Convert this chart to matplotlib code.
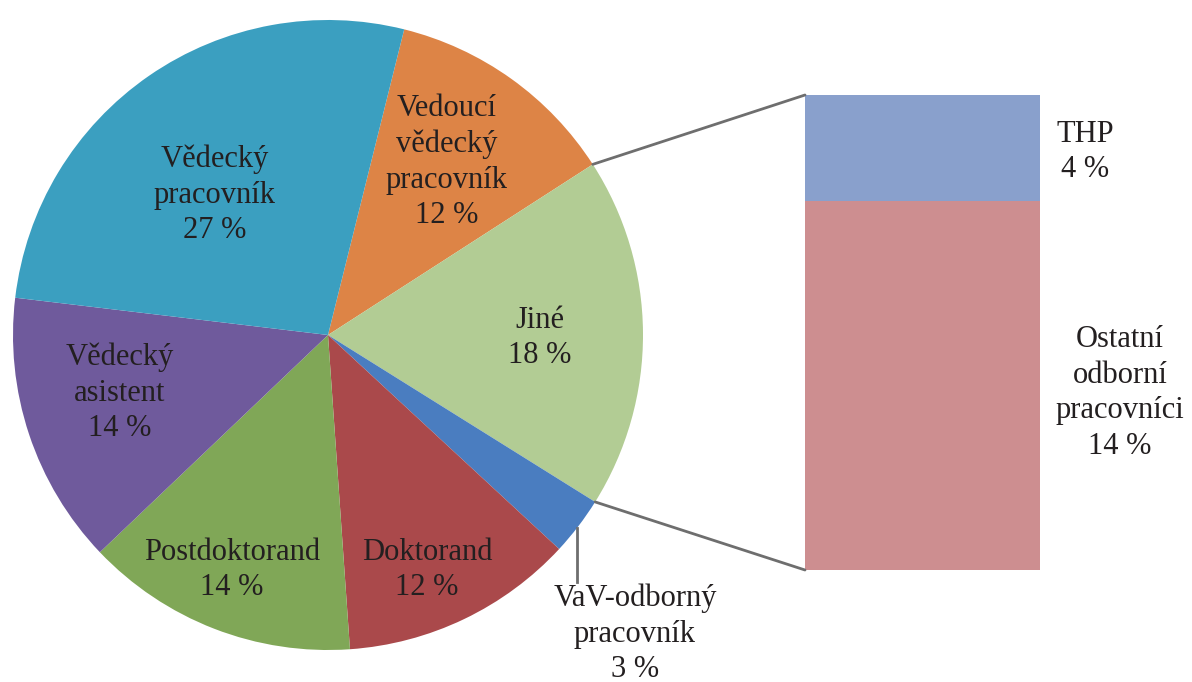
import numpy as np
import matplotlib
matplotlib.use("Agg")
import matplotlib.pyplot as plt
from matplotlib.patches import ConnectionPatch

plt.rcParams['font.family'] = ['Liberation Serif', 'DejaVu Serif']

# pie slices, clockwise from the top
pie_labels = ["Vedoucí\nvědecký\npracovník", "Jiné", "VaV-odborný\npracovník",
              "Doktorand", "Postdoktorand", "Vědecký\nasistent", "Vědecký\npracovník"]
pie_values = [12, 18, 3, 12, 14, 14, 27]
pie_colors = ["#DD8446", "#B2CC94", "#4A7DC0", "#AA494B", "#80A757", "#6F5A9C", "#3B9FC0"]

# breakdown of "Jiné" (bottom to top)
bar_labels = ["Ostatní\nodborní\npracovníci", "THP"]
bar_values = [14, 4]
bar_colors = ["#CD8E90", "#89A0CC"]

W, H = 1192, 682
fig = plt.figure(figsize=(W / 100, H / 100), dpi=100)
ax = fig.add_axes([0, 0, 1, 1])

cx, cy, r = 328, H - 335, 315
start = 76
wedges, _ = ax.pie(pie_values, colors=pie_colors, startangle=start, counterclock=False,
                   center=(cx, cy), radius=r, frame=True,
                   wedgeprops=dict(linewidth=0))
ax.set_xlim(0, W)
ax.set_ylim(0, H)
ax.set_aspect('auto')
ax.axis('off')

txt = "#231F20"
fs = 22
ls = 1.3
# label positions (pixels from top-left)
label_pos = [(447, 162), (540, 338), (635, 634), (427, 570), (232, 570), (120, 393), (215, 195)]
for lab, val, (px, py) in zip(pie_labels, pie_values, label_pos):
    ax.text(px, H - py, f"{lab}\n{val} %", ha='center', va='center', fontsize=fs,
            color=txt, linespacing=ls)

# leader line for the small slice
ax.plot([577, 577], [H - 528, H - 582], color="#6E6E6E", lw=2)

# stacked bar for "Jiné"
bax = fig.add_axes([805 / W, (H - 570) / H, 235 / W, 475 / H])
bottom = 0
for val, col in zip(bar_values, bar_colors):
    bax.bar(0.5, val, width=1, bottom=bottom, color=col, linewidth=0)
    bottom += val
bax.set_xlim(0, 1)
bax.set_ylim(0, sum(bar_values))
bax.axis('off')

ax.text(1120, H - 393, f"{bar_labels[0]}\n{bar_values[0]} %", ha='center', va='center',
        fontsize=fs, color=txt, linespacing=ls)
ax.text(1085, H - 152, f"{bar_labels[1]}\n{bar_values[1]} %", ha='center', va='center',
        fontsize=fs, color=txt, linespacing=ls)

# lines joining the "Jiné" wedge to the bar
jine = wedges[1]
for ang, ybar in [(jine.theta2, sum(bar_values)), (jine.theta1, 0)]:
    pt = (cx + r * np.cos(np.radians(ang)), cy + r * np.sin(np.radians(ang)))
    con = ConnectionPatch(xyA=pt, coordsA=ax.transData, xyB=(0, ybar), coordsB=bax.transData,
                          color="#6E6E6E", lw=2)
    fig.add_artist(con)

fig.savefig("out.png", dpi=100)
